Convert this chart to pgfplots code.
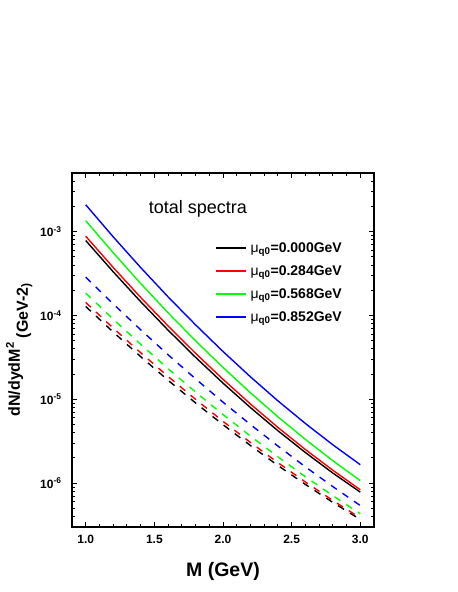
\documentclass[border=0pt]{standalone}
\usepackage{fontspec}
\setmainfont{Liberation Sans}
\usepackage{pgfplots}
\pgfplotsset{compat=1.18}
\definecolor{cred}{RGB}{255,0,0}
\definecolor{cgreen}{RGB}{0,255,0}
\definecolor{cblue}{RGB}{0,0,255}
\begin{document}
\begin{tikzpicture}
\useasboundingbox (-72bp,-65bp) rectangle (386bp,527bp);
\begin{axis}[
  at={(0,0)}, anchor=south west,
  width=302bp, height=354bp, scale only axis,
  xmin=0.9, xmax=3.1,
  ymode=log, ymin=3e-7, ymax=5e-3,
  axis line style={line width=1.4bp},
  every tick/.style={black, line width=0.9bp},
  major tick length=5bp, minor tick length=3bp,
  xtick={1,1.5,2,2.5,3}, xticklabels={1.0,1.5,2.0,2.5,3.0},
  minor x tick num=4,
  ytick={1e-6,1e-5,1e-4,1e-3},
  yticklabels={10\textsuperscript{-6},10\textsuperscript{-5},10\textsuperscript{-4},10\textsuperscript{-3}},
  minor ytick={4e-7,5e-7,6e-7,7e-7,8e-7,9e-7,
    2e-6,3e-6,4e-6,5e-6,6e-6,7e-6,8e-6,9e-6,
    2e-5,3e-5,4e-5,5e-5,6e-5,7e-5,8e-5,9e-5,
    2e-4,3e-4,4e-4,5e-4,6e-4,7e-4,8e-4,9e-4,
    2e-3,3e-3,4e-3},
  tick label style={font=\bfseries\fontsize{12bp}{14bp}\selectfont},
  xticklabel style={yshift=-5bp},
  yticklabel style={xshift=-7bp},
  xlabel={M (GeV)},
  xlabel style={at={(axis description cs:0.5,-0.141)}, anchor=base, font=\bfseries\fontsize{19.5bp}{22bp}\selectfont},
  legend style={draw=none, fill=none, at={(axis description cs:0.4735,0.8215)}, anchor=north west,
    font=\bfseries\fontsize{14bp}{16bp}\selectfont, row sep=0pt, column sep=4bp, inner sep=0pt,
    nodes={inner sep=0pt, minimum height=23bp}},
  legend cell align=left,
  legend image code/.code={\draw[mark repeat=2,mark phase=2,#1] plot coordinates {(0bp,0bp) (15bp,0bp) (30bp,0bp)};},
]
% solid lines
\addplot[black, line width=1.4bp] coordinates {
(1.0,7.82e-4)(1.2,3.32e-4)(1.4,1.462e-4)(1.6,6.68e-5)(1.8,3.17e-5)(2.0,1.56e-5)
(2.2,7.96e-6)(2.4,4.22e-6)(2.6,2.32e-6)(2.8,1.32e-6)(3.0,7.82e-7)};
\addplot[cred, line width=1.4bp] coordinates {
(1.0,8.81e-4)(1.2,3.74e-4)(1.4,1.644e-4)(1.6,7.50e-5)(1.8,3.54e-5)(2.0,1.734e-5)
(2.2,8.79e-6)(2.4,4.62e-6)(2.6,2.52e-6)(2.8,1.426e-6)(3.0,8.34e-7)};
\addplot[cgreen, line width=1.4bp] coordinates {
(1.0,1.349e-3)(1.2,5.60e-4)(1.4,2.41e-4)(1.6,1.076e-4)(1.8,4.99e-5)(2.0,2.40e-5)
(2.2,1.197e-5)(2.4,6.19e-6)(2.6,3.33e-6)(2.8,1.854e-6)(3.0,1.072e-6)};
\addplot[cblue, line width=1.4bp] coordinates {
(1.0,2.089e-3)(1.2,8.67e-4)(1.4,3.73e-4)(1.6,1.667e-4)(1.8,7.73e-5)(2.0,3.72e-5)
(2.2,1.854e-5)(2.4,9.59e-6)(2.6,5.15e-6)(2.8,2.87e-6)(3.0,1.66e-6)};
\legend{{\mdseries μ}\textsubscript{q0}=0.000GeV,{\mdseries μ}\textsubscript{q0}=0.284GeV,{\mdseries μ}\textsubscript{q0}=0.568GeV,{\mdseries μ}\textsubscript{q0}=0.852GeV}
% dashed lines
\addplot[black, line width=1.4bp, dash pattern=on 7bp off 7bp, forget plot] coordinates {
(1.0,1.279e-4)(1.2,6.35e-5)(1.4,3.23e-5)(1.6,1.687e-5)(1.8,9.06e-6)(2.0,4.98e-6)
(2.2,2.81e-6)(2.4,1.626e-6)(2.6,9.66e-7)(2.8,5.90e-7)(3.0,3.69e-7)};
\addplot[cred, line width=1.4bp, dash pattern=on 7bp off 7bp, forget plot] coordinates {
(1.0,1.429e-4)(1.2,7.08e-5)(1.4,3.60e-5)(1.6,1.875e-5)(1.8,1.00e-5)(2.0,5.46e-6)
(2.2,3.06e-6)(2.4,1.758e-6)(2.6,1.033e-6)(2.8,6.22e-7)(3.0,3.85e-7)};
\addplot[cgreen, line width=1.4bp, dash pattern=on 7bp off 7bp, forget plot] coordinates {
(1.0,1.849e-4)(1.2,9.04e-5)(1.4,4.53e-5)(1.6,2.32e-5)(1.8,1.222e-5)(2.0,6.59e-6)
(2.2,3.64e-6)(2.4,2.06e-6)(2.6,1.194e-6)(2.8,7.10e-7)(3.0,4.32e-7)};
\addplot[cblue, line width=1.4bp, dash pattern=on 7bp off 7bp, forget plot] coordinates {
(1.0,2.86e-4)(1.2,1.374e-4)(1.4,6.76e-5)(1.6,3.40e-5)(1.8,1.754e-5)(2.0,9.25e-6)
(2.2,5.00e-6)(2.4,2.77e-6)(2.6,1.567e-6)(2.8,9.10e-7)(3.0,5.41e-7)};
\node[anchor=base, font=\fontsize{18bp}{20bp}\selectfont] at (axis description cs:0.417,0.886) {total spectra};
\end{axis}
\node[rotate=90, anchor=base, inner sep=0pt, font=\bfseries\fontsize{16bp}{18bp}\selectfont]
  at (-52bp,177bp) {dN/dydM\textsuperscript{2}\hspace{4bp}\raisebox{-8bp}{(GeV-2\raisebox{-2bp}{\fontsize{12bp}{14bp}\selectfont )}}};
\end{tikzpicture}
\end{document}
